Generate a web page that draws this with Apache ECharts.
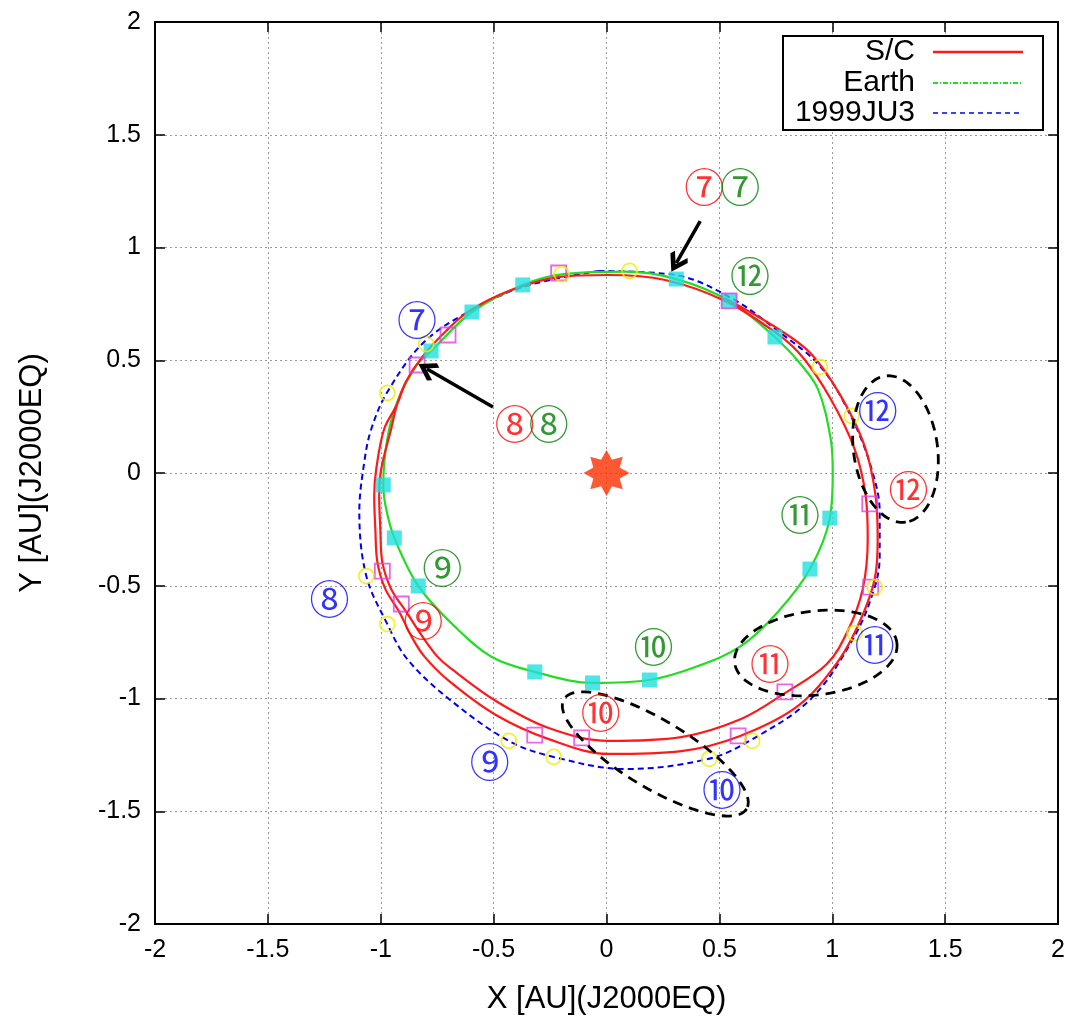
<!DOCTYPE html>
<html><head><meta charset="utf-8">
<script src="https://cdn.jsdelivr.net/npm/echarts@6/dist/echarts.min.js"></script>
<style>html,body{margin:0;padding:0;background:#fff}#c{width:1068px;height:1023px}</style>
</head><body><div id="c"></div>
<script>
// ---------- data (AU, J2000EQ) ----------
const axisTicks = [-2, -1.5, -1, -0.5, 0, 0.5, 1, 1.5, 2];
const seriesNames = ['S/C', 'Earth', '1999JU3'];
const xName = 'X [AU](J2000EQ)';
const yName = 'Y [AU](J2000EQ)';

// spacecraft trajectory (two revolutions, shared top arc)
const scPath = [
  [0.759,0.616],[0.525,0.763],[0.260,0.856],[0.009,0.878],[-0.212,0.869],[-0.433,0.807],[-0.609,0.718],[-0.711,0.630],[-0.817,0.514],[-0.887,0.408],[-0.927,0.306],
  [-0.954,0.195],[-0.998,0.018],[-1.007,-0.102],[-1.002,-0.248],[-0.993,-0.395],[-0.954,-0.514],[-0.887,-0.616],[-0.808,-0.736],[-0.751,-0.812],[-0.698,-0.860],
  [-0.490,-1.011],[-0.256,-1.131],[0.009,-1.188],[0.331,-1.171],[0.596,-1.091],[0.790,-0.976],[0.976,-0.847],[1.068,-0.701],[1.135,-0.514],[1.157,-0.293],
  [1.148,-0.102],[1.099,0.106],[0.993,0.328],[0.870,0.512],[0.759,0.616],
  [0.525,0.763],[0.260,0.856],[0.009,0.878],[-0.212,0.869],[-0.433,0.807],[-0.609,0.718],[-0.711,0.630],[-0.817,0.514],[-0.887,0.408],[-0.927,0.306],
  [-0.985,0.195],[-1.020,0.018],[-1.029,-0.102],[-1.024,-0.248],[-1.015,-0.395],[-0.980,-0.514],[-0.918,-0.616],[-0.865,-0.723],[-0.808,-0.812],[-0.698,-0.922],
  [-0.490,-1.073],[-0.256,-1.180],[0.009,-1.246],[0.331,-1.233],[0.592,-1.166],[0.848,-1.033],[1.024,-0.838],[1.121,-0.661],[1.188,-0.470],[1.201,-0.293],
  [1.192,-0.102],[1.143,0.120],[1.038,0.341],[0.905,0.530],[0.759,0.640],[0.525,0.775]
];
// Earth orbit
const earthPath = [
  [0.746,0.603],[0.543,0.763],[0.309,0.860],[0.084,0.893],[-0.190,0.882],[-0.371,0.834],[-0.596,0.714],[-0.777,0.541],[-0.843,0.475],[-0.927,0.315],
  [-0.971,0.151],[-0.989,-0.053],[-0.976,-0.160],[-0.940,-0.288],[-0.834,-0.501],[-0.675,-0.678],[-0.508,-0.816],[-0.318,-0.882],[-0.062,-0.931],[0.190,-0.918],
  [0.406,-0.856],[0.596,-0.767],[0.759,-0.616],[0.901,-0.426],[0.989,-0.200],[1.002,0.004],[0.993,0.151],[0.936,0.373],[0.848,0.497],[0.746,0.603]
];
// 1999JU3 orbit
const ju3Path = [
  [-0.035,0.896],[0.305,0.878],[0.552,0.776],[0.759,0.630],[0.949,0.470],[1.082,0.253],[1.170,0.031],[1.210,-0.173],[1.210,-0.368],[1.188,-0.506],
  [1.099,-0.723],[0.905,-1.002],[0.640,-1.184],[0.450,-1.268],[0.084,-1.313],[-0.234,-1.259],[-0.433,-1.188],[-0.698,-1.002],[-0.883,-0.825],[-0.971,-0.670],
  [-1.064,-0.457],[-1.095,-0.173],[-1.073,0.049],[-1.042,0.195],[-0.971,0.359],[-0.808,0.581],[-0.596,0.723],[-0.358,0.829],[-0.035,0.896]
];
// monthly position markers
const scMarks = [[-0.839,0.479],[-0.702,0.612],[-0.212,0.887],[0.543,0.763],[1.166,-0.137],[1.170,-0.506],[0.790,-0.971],[0.583,-1.166],[-0.110,-1.175],[-0.318,-1.162],[-0.909,-0.581],[-0.993,-0.435]];
const earthMarks = [[0.309,0.860],[0.543,0.763],[0.746,0.603],[0.989,-0.200],[0.901,-0.426],[0.190,-0.918],[-0.062,-0.931],[-0.318,-0.882],[-0.834,-0.501],[-0.940,-0.288],[-0.989,-0.053],[-0.777,0.541],[-0.596,0.714],[-0.371,0.834]];
const ju3Marks = [[0.102,0.896],[-0.199,0.882],[0.945,0.470],[1.086,0.253],[1.188,-0.506],[1.099,-0.710],[0.645,-1.188],[0.455,-1.268],[-0.234,-1.259],[-0.433,-1.188],[-0.971,-0.670],[-1.064,-0.457],[-0.971,0.355],[-0.799,0.572]];
const sunPos = [[0, 0]];
// month annotations [x, y, text]
const labelsRed = [[0.433,1.268,'⑦'],[-0.406,0.217,'⑧'],[-0.812,-0.656,'⑨'],[-0.026,-1.064,'⑩'],[0.724,-0.847,'⑪'],[1.338,-0.075,'⑫']];
const labelsGreen = [[0.592,1.268,'⑦'],[-0.256,0.217,'⑧'],[-0.728,-0.421,'⑨'],[0.208,-0.772,'⑩'],[0.857,-0.186,'⑪'],[0.636,0.874,'⑫']];
const labelsBlue = [[-0.839,0.678,'⑦'],[-1.227,-0.559,'⑧'],[-0.517,-1.282,'⑨'],[0.512,-1.406,'⑩'],[1.188,-0.763,'⑪'],[1.201,0.275,'⑫']];
// arrows [from, to]
const arrows = [[[0.415,1.117],[0.309,0.931]], [[-0.503,0.293],[-0.795,0.461]]];
// dashed ellipses [cx, cy, semiMajor, semiMinor, screenAngleDeg]
const ellipses = [[1.280,0.106,0.327,0.186,82],[0.927,-0.798,0.362,0.186,-7],[0.216,-1.246,0.472,0.150,31]];

// ---------- chart ----------
const FONT = 'Liberation Sans';
let star = 'path://';
for (let i = 0; i < 16; i++) {
  const r = i % 2 === 0 ? 10 : 6.2;
  const a = Math.PI * i / 8 - Math.PI / 2;
  star += (i === 0 ? 'M' : 'L') + (r * Math.cos(a)).toFixed(3) + ' ' + (r * Math.sin(a)).toFixed(3);
}
star += 'Z';
const chevron = 'path://M0 0L9 9L6.5 11.5L0 5L-6.5 11.5L-9 9Z';

function labelData(arr, color) {
  return arr.map(d => ({ value: [d[0], d[1]], name: d[2], label: { color: color } }));
}
const tickMin = axisTicks[0], tickMax = axisTicks[axisTicks.length - 1], tickStep = axisTicks[1] - axisTicks[0];
function axisBase(pos, showLabel, showSplit) {
  return {
    type: 'value', position: pos, min: tickMin, max: tickMax, interval: tickStep,
    axisLine: { show: true, onZero: false, lineStyle: { color: '#000', width: 2 } },
    axisTick: { show: true, inside: true, length: 10, lineStyle: { color: '#000', width: 1.5 } },
    axisLabel: { show: showLabel, color: '#000', fontSize: 25, fontFamily: FONT, margin: 14 },
    splitLine: { show: showSplit, lineStyle: { color: '#9a9a9a', width: 1, type: [2, 3] } }
  };
}

const chart = echarts.init(document.getElementById('c'));
const xa = axisBase('bottom', true, true);
xa.name = xName; xa.nameLocation = 'middle'; xa.nameGap = 60;
xa.nameTextStyle = { fontSize: 31, fontFamily: FONT, color: '#000' };
const ya = axisBase('left', true, true);
ya.name = yName; ya.nameLocation = 'middle'; ya.nameGap = 107;
ya.nameTextStyle = { fontSize: 31, fontFamily: FONT, color: '#000' };

const option = {
  animation: false,
  backgroundColor: '#fff',
  grid: { left: 155, right: 8, top: 22, bottom: 99 },
  xAxis: [xa, axisBase('top', false, false)],
  yAxis: [ya, axisBase('right', false, false)],
  series: [
    { name: seriesNames[2], type: 'line', data: ju3Path, showSymbol: false, z: 3, smooth: 0.35,
      lineStyle: { color: '#0000ee', width: 2, type: [6, 4] } },
    { name: seriesNames[1], type: 'line', data: earthPath, showSymbol: false, z: 3, smooth: 0.35,
      lineStyle: { color: '#22dd22', width: 2.2 } },
    { name: seriesNames[0], type: 'line', data: scPath, showSymbol: false, z: 4, smooth: 0.35,
      lineStyle: { color: '#ff1a1a', width: 2.2 } },
    { type: 'scatter', data: earthMarks, symbol: 'rect', symbolSize: 15, z: 5,
      itemStyle: { color: '#22dede' } },
    { type: 'scatter', data: scMarks, symbol: 'rect', symbolSize: 15, z: 6,
      itemStyle: { color: 'rgba(0,0,0,0)', borderColor: '#e040e0', borderWidth: 1.8 } },
    { type: 'scatter', data: ju3Marks, symbol: 'circle', symbolSize: 15, z: 6,
      itemStyle: { color: 'rgba(0,0,0,0)', borderColor: '#eeee00', borderWidth: 1.8 } },
    { type: 'scatter', data: sunPos, symbol: star, symbolSize: 46, z: 6,
      itemStyle: { color: '#ff3000' } },
    { type: 'custom', renderItem: function (params, api) {
        const c = api.coord([api.value(0), api.value(1)]);
        const ax = api.size([api.value(2), 0])[0];
        const by = api.size([api.value(3), 0])[0];
        const phi = api.value(4) * Math.PI / 180;
        const pts = [];
        for (let i = 0; i <= 96; i++) {
          const t = 2 * Math.PI * i / 96;
          const u = ax * Math.cos(t), v = by * Math.sin(t);
          pts.push([c[0] + u * Math.cos(phi) - v * Math.sin(phi), c[1] + u * Math.sin(phi) + v * Math.cos(phi)]);
        }
        return { type: 'polyline', shape: { points: pts },
          style: { fill: 'none', stroke: '#000', lineWidth: 2.8, lineDash: [10, 7] } };
      }, data: ellipses, z: 7, clip: false },
    { type: 'lines', coordinateSystem: 'cartesian2d', z: 8,
      data: arrows.map(a => ({ coords: a })),
      symbol: ['none', chevron], symbolSize: 20,
      lineStyle: { color: '#000', width: 3.5, opacity: 1 } },
    ...[[labelsRed, '#ff0000'], [labelsGreen, '#008000'], [labelsBlue, '#0000ff']].map(p => ({
      type: 'scatter', data: labelData(p[0], p[1]), symbolSize: 1, z: 9,
      itemStyle: { color: 'rgba(0,0,0,0)' },
      label: { show: true, position: 'inside', formatter: q => q.name,
        fontSize: 40, fontWeight: 'normal', fontFamily: 'Noto Sans CJK JP' }
    }))
  ]
};
chart.setOption(option);

// legend box
const legY = [52, 83, 113];
const legStyles = [
  { stroke: '#ff1a1a', lineWidth: 2.5 },
  { stroke: '#22dd22', lineWidth: 2, lineDash: [5, 2, 1, 2] },
  { stroke: '#0000ee', lineWidth: 1.5, lineDash: [5, 4] }
];
const g = [{ type: 'rect', shape: { x: 783, y: 36, width: 260, height: 94 }, z: 100,
  style: { fill: '#fff', stroke: '#000', lineWidth: 2 } }];
seriesNames.forEach((n, i) => {
  g.push({ type: 'text', z: 101, x: 915, y: legY[i],
    style: { text: n, textAlign: 'right', textVerticalAlign: 'middle', font: '30px ' + FONT, fill: '#000' } });
  g.push({ type: 'line', z: 101, shape: { x1: 933, y1: legY[i], x2: 1023, y2: legY[i] },
    style: Object.assign({ fill: null }, legStyles[i]) });
});
chart.setOption({ graphic: g });
</script></body></html>
